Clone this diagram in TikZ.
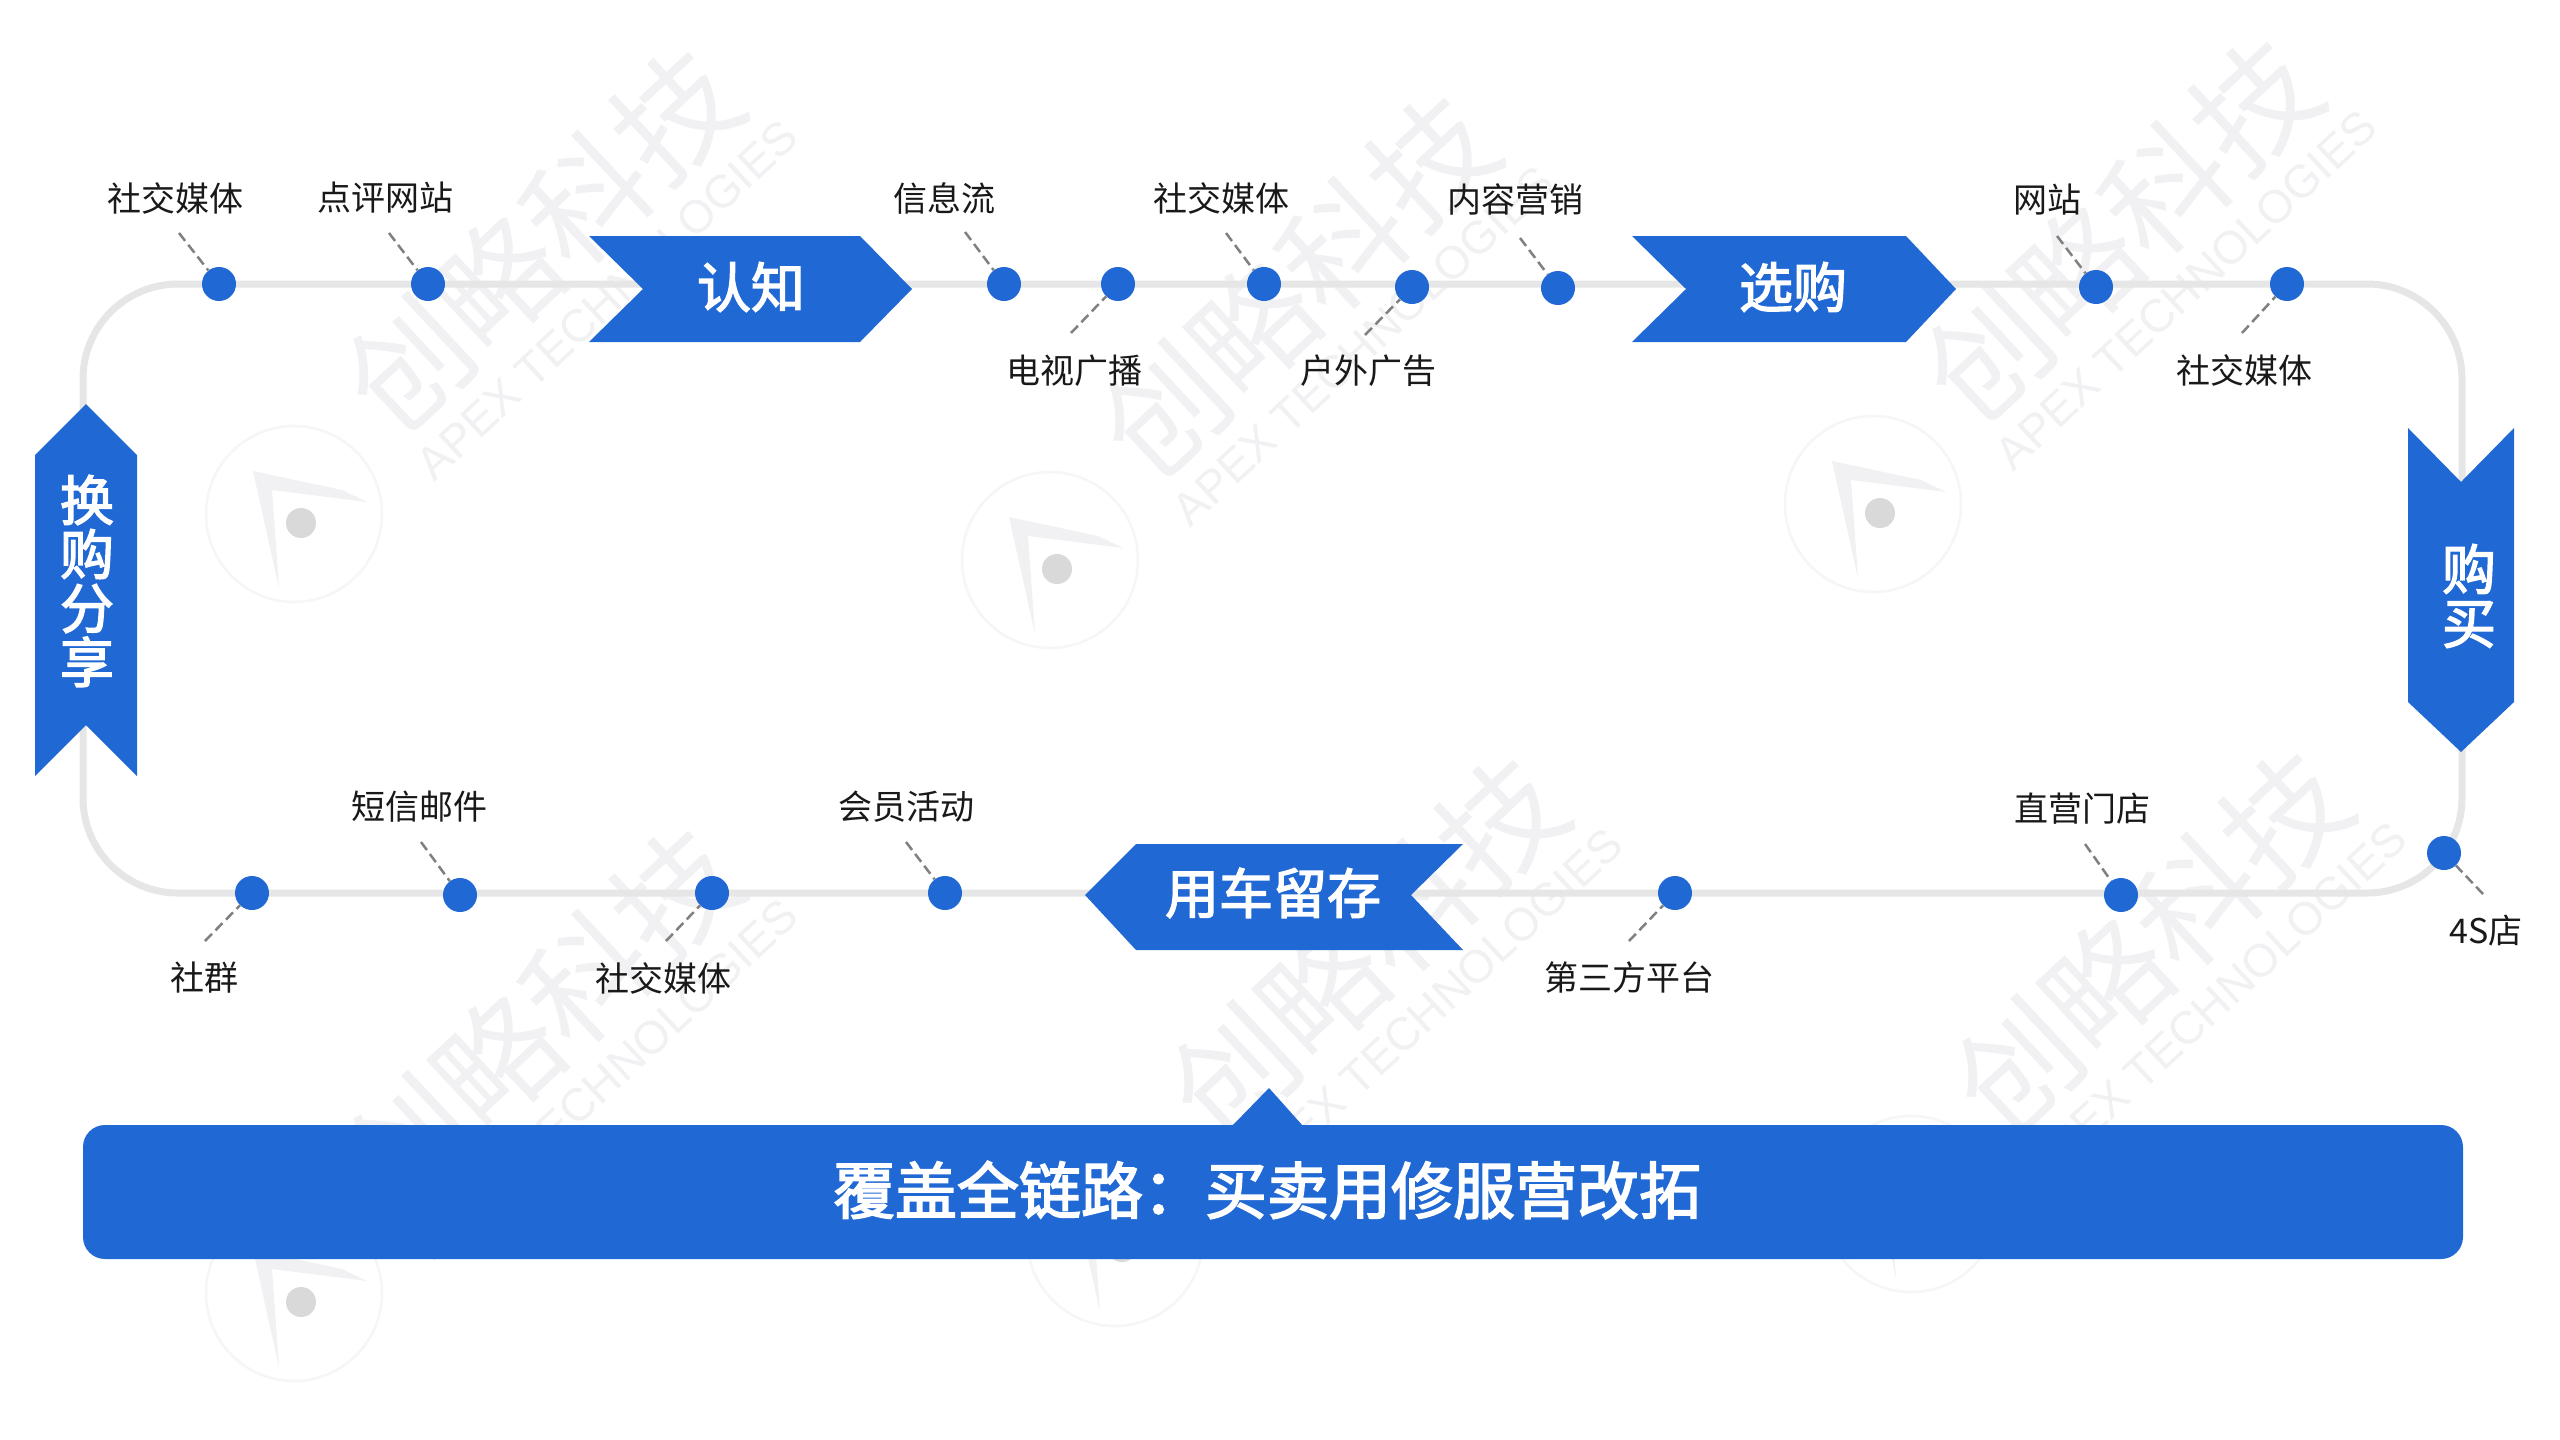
\documentclass[tikz,border=0pt]{standalone}
\usepackage{fontspec}
\setmainfont{Noto Sans CJK SC}
\newfontfamily\latinwm{Liberation Sans}
\newfontfamily\bandfont[FakeBold=2.6]{Noto Sans CJK SC}
\definecolor{brand}{HTML}{2068D4}
\definecolor{track}{HTML}{E6E6E6}
\definecolor{wmark}{HTML}{F1F1F4}
\definecolor{wmline}{HTML}{F6F6F6}
\definecolor{wmdot}{HTML}{D9D9D9}
\definecolor{leader}{HTML}{808080}
\tikzset{
  lab/.style={inner sep=0pt,text=black!90,font=\fontsize{34}{34}\selectfont},
  dotn/.style={circle,fill=brand,minimum size=34pt,inner sep=0pt},
  lead/.style={draw=leader,line width=2.5pt,dash pattern=on 10pt off 5pt},
  band/.style={fill=brand},
  bandtext/.style={inner sep=0pt,text=white,align=center,font=\fontsize{54}{54}\selectfont\bandfont},
  wmcn/.style={inner sep=0pt,text=wmark,rotate=43,font=\fontsize{122}{122}\selectfont},
  wmen/.style={inner sep=0pt,text=wmark,rotate=43,font=\fontsize{46}{46}\selectfont\latinwm},
}
\begin{document}
\begin{tikzpicture}[x=1pt,y=-1pt]
\useasboundingbox (0,0) rectangle (2560,1440);
\fill[white] (0,0) rectangle (2560,1440);
% watermark tiles
\foreach \i/\lx/\ly/\tx/\ty in {1/294/514/248/-274,2/1050/560/248/-274,3/1873/504/248/-274,4/294/1293/248/-274,5/1115/1238/252/-290,6/1911/1204/240/-262}{
  \begin{scope}[shift={(\lx,\ly)}]
    \draw[wmline,line width=2.5pt] (0,0) circle[radius=88];
    \fill[wmark] (-41,-43) -- (48,-24) -- (73,-12) -- (-22,-24) -- (-15,74) -- cycle;
    \fill[wmdot] (7,9) circle[radius=15];
    \node[wmcn] (wmc\i) at (\tx,\ty) {创略科技};
    \node[wmen] (wme\i) at ({\tx+65},{\ty+60}) {APEX TECHNOLOGIES};
  \end{scope}
}
% main loop
\draw[track,line width=7pt,rounded corners=95pt] (83,284) rectangle (2462,893);
% leader ends
\foreach \n/\x/\y in {a/179/233,b/389/233,c/965/232,d/1071/333,e/1226/233,f/1365/335,g/1520/238,h/2057/236,i/2242/333,j/205/941,k/421/842,l/666/941,m/906/842,n/1629/941,o/2085/844,p/2483/894}
  \coordinate (e\n) at (\x,\y);
% dots
\foreach \n/\x/\y in {a/219/284,b/428/284,c/1004/284,d/1118/284,e/1264/284,f/1412/287,g/1558/288,h/2096/287,i/2287/284,j/252/893,k/460/895,l/712/893,m/945/893,n/1675/893,o/2121/895,p/2444/853}{
  \node[dotn] (d\n) at (\x,\y) {};
  \draw[lead] (e\n) -- (d\n);
}
% labels
\node[lab] (la) at (175,198) {社交媒体};
\node[lab] (lb) at (385,198) {点评网站};
\node[lab] (lc) at (944,198) {信息流};
\node[lab] (le) at (1221,198) {社交媒体};
\node[lab] (lg) at (1515,200) {内容营销};
\node[lab] (lh) at (2047,200) {网站};
\node[lab] (ld) at (1074,371) {电视广播};
\node[lab] (lf) at (1368,371) {户外广告};
\node[lab] (li) at (2244,370) {社交媒体};
\node[lab] (lk) at (419,807) {短信邮件};
\node[lab] (lm) at (906,807) {会员活动};
\node[lab] (lo) at (2082,809) {直营门店};
\node[lab] (lj) at (204,978) {社群};
\node[lab] (ll) at (663,978) {社交媒体};
\node[lab] (ln) at (1629,978) {第三方平台};
\node[lab] (lp) at (2486,931) {4S店};
% bands
\fill[band] (589,236) -- (860,236) -- (912,289) -- (860,342) -- (589,342) -- (643,289) -- cycle;
\node[bandtext] (renzhi) at (751,287) {认知};
\fill[band] (1632,236) -- (1906,236) -- (1956,289) -- (1906,342) -- (1632,342) -- (1686,289) -- cycle;
\node[bandtext] (xuangou) at (1793,287) {选购};
\fill[band] (2408,428) -- (2461,482) -- (2514,428) -- (2514,702) -- (2461,752) -- (2408,702) -- cycle;
\node[bandtext] (goumai) at (2469,596) {购\\买};
\fill[band] (35,455) -- (86,404) -- (137,455) -- (137,776) -- (86,725) -- (35,776) -- cycle;
\node[bandtext] (huangou) at (87,581) {换\\购\\分\\享};
\fill[band] (1085,895) -- (1136,844) -- (1463,844) -- (1411,895) -- (1463,950) -- (1136,950) -- cycle;
\node[bandtext] (yongche) at (1273,893) {用车留存};
% bottom bar
\fill[band] (1232,1126) -- (1269,1088) -- (1303,1126) -- cycle;
\fill[band,rounded corners=22pt] (83,1125) rectangle (2463,1259);
\node[bandtext,font=\fontsize{62}{62}\selectfont\bandfont] (bar) at (1267,1190) {覆盖全链路：买卖用修服营改拓};
\end{tikzpicture}
\end{document}
